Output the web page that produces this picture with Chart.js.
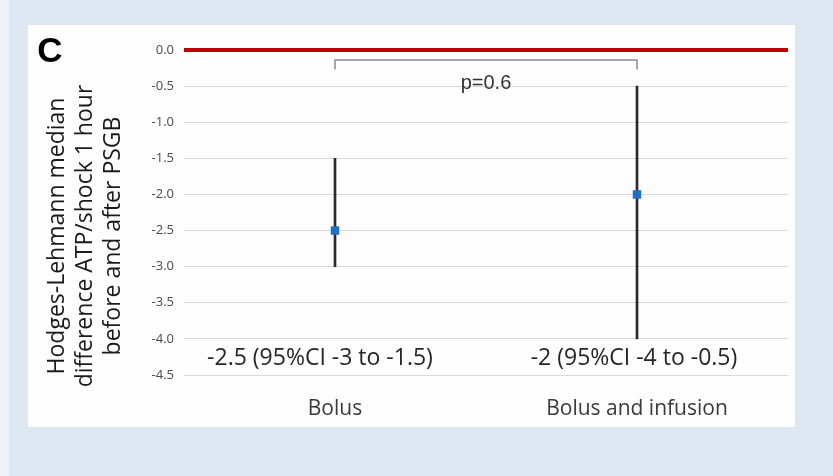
<!DOCTYPE html>
<html>
<head>
<meta charset="utf-8">
<script src="https://cdn.jsdelivr.net/npm/chart.js@4/dist/chart.umd.min.js"></script>
<style>
  html, body { margin: 0; padding: 0; }
  body { width: 833px; height: 476px; background: #dce7f2; position: relative; overflow: hidden; }
  #edge { position: absolute; left: 0; top: 0; width: 9px; height: 476px; background: #edf2f8; }
  #panel { position: absolute; left: 28px; top: 25px; width: 767px; height: 402px; background: #fdfdfd; }
  #wrap { position: absolute; left: 0; top: 0; width: 833px; height: 476px; }
</style>
</head>
<body>
<div id="edge"></div>
<div id="panel"></div>
<div id="wrap"><canvas id="chart" width="833" height="476"></canvas></div>
<script>
// Data
const groups = ['Bolus', 'Bolus and infusion'];
const medians = [-2.5, -2];
const ciLow = [-3, -4];
const ciHigh = [-1.5, -0.5];
const ciLabels = ['-2.5 (95%CI -3 to -1.5)', '-2 (95%CI -4 to -0.5)'];
const pValue = 'p=0.6';
const yTitle = ['Hodges-Lehmann median', 'difference ATP/shock 1 hour', 'before and after PSGB'];
const yMin = -4.5, yMax = 0, yStep = 0.5;

const textFont = '"Open Sans", sans-serif';
// small horizontal nudges of the CI text boxes, as placed in the original
const ciLabelShift = [-15, -3];

// Extra drawing: panel letter, axis title, CI labels and p-value bracket
const annotations = {
    id: 'annotations',
    afterDatasetsDraw(chart) {
        const ctx = chart.ctx;
        const x = chart.scales.x;
        const y = chart.scales.y;
        ctx.save();

        // bracket between the two groups
        const x0 = x.getPixelForValue(0);
        const x1 = x.getPixelForValue(1);
        const yTop = y.getPixelForValue(-0.14);
        const yEnd = y.getPixelForValue(-0.27);
        ctx.strokeStyle = '#8a8a8a';
        ctx.lineWidth = 1.5;
        ctx.beginPath();
        ctx.moveTo(x0, yEnd);
        ctx.lineTo(x0, yTop);
        ctx.lineTo(x1, yTop);
        ctx.lineTo(x1, yEnd);
        ctx.stroke();

        ctx.fillStyle = '#333333';
        ctx.font = '20px "Liberation Sans", Arial, sans-serif';
        ctx.textAlign = 'center';
        ctx.textBaseline = 'middle';
        ctx.fillText(pValue, (x0 + x1) / 2, y.getPixelForValue(-0.46));

        // CI labels under each group
        ctx.fillStyle = '#262626';
        ctx.font = '23px ' + textFont;
        ciLabels.forEach(function(label, i) {
            ctx.fillText(label, x.getPixelForValue(i) + ciLabelShift[i], y.getPixelForValue(-4.25) + 2);
        });

        // y axis title, three rotated lines
        ctx.fillStyle = '#1a1a1a';
        ctx.font = '23px ' + textFont;
        yTitle.forEach(function(line, i) {
            ctx.save();
            ctx.translate(57 + i * 28, 236);
            ctx.rotate(-Math.PI / 2);
            ctx.fillText(line, 0, 0);
            ctx.restore();
        });

        // panel letter
        ctx.fillStyle = '#000000';
        ctx.font = 'bold 35px "Liberation Sans", Arial, sans-serif';
        ctx.fillText('C', 50, 52);

        ctx.restore();
    }
};

const ctx = document.getElementById('chart');
new Chart(ctx, {
    type: 'bar',
    data: {
        labels: groups,
        datasets: [{
            type: 'line',
            label: 'Median',
            data: medians,
            showLine: false,
            pointStyle: 'rect',
            pointRadius: 6,
            pointBackgroundColor: '#1f6fc5',
            pointBorderColor: '#1f6fc5',
            pointBorderWidth: 0,
            order: 0
        }, {
            label: '95% CI',
            data: ciLow.map(function(lo, i) { return [lo, ciHigh[i]]; }),
            backgroundColor: '#2b2b2b',
            barThickness: 2,
            grouped: false,
            order: 1
        }]
    },
    options: {
        responsive: false,
        animation: false,
        layout: { padding: { left: 0, top: 50, right: 45, bottom: 0 } },
        plugins: {
            legend: { display: false },
            tooltip: { enabled: false }
        },
        scales: {
            x: {
                grid: { display: false },
                border: { display: false },
                ticks: {
                    color: '#3a3a3a',
                    font: { family: textFont, size: 21 },
                    padding: 13
                },
                afterFit: function(scale) { scale.height = 101; }
            },
            y: {
                min: yMin,
                max: yMax,
                border: { display: false },
                grid: {
                    drawTicks: false,
                    color: function(c) { return c.tick && c.tick.value === 0 ? '#c00000' : '#d9d9d9'; },
                    lineWidth: function(c) { return c.tick && c.tick.value === 0 ? 4 : 1; }
                },
                ticks: {
                    stepSize: yStep,
                    padding: 10,
                    color: '#4a4a4a',
                    font: { family: textFont, size: 13 },
                    callback: function(v) { return Number(v).toFixed(1); }
                },
                afterFit: function(scale) { scale.width = 184; }
            }
        }
    },
    plugins: [annotations]
});
</script>
</body>
</html>
